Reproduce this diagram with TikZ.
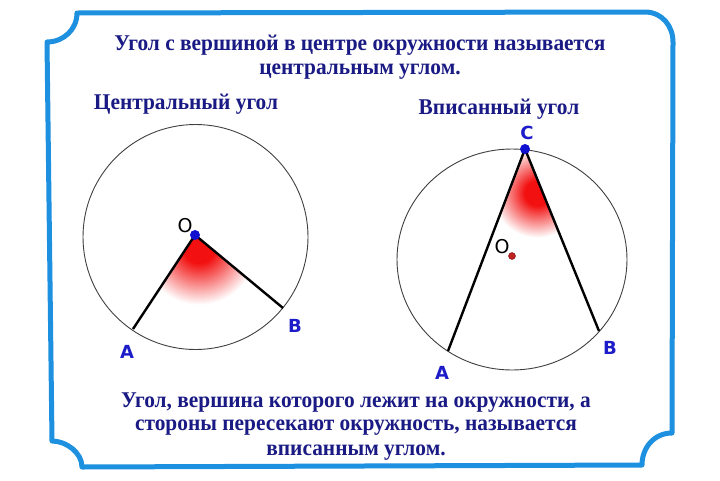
\documentclass[tikz,border=0pt]{standalone}
\usepackage{fontspec}
\setmainfont{Liberation Serif}[FakeStretch=0.95]
\newfontfamily\labfont{DejaVu Sans}
\usetikzlibrary{calc}
\definecolor{framebl}{HTML}{1E90E0}
\definecolor{navy}{HTML}{1A1A85}
\definecolor{labbl}{HTML}{1C1CC8}
\definecolor{dotbl}{HTML}{1010D0}
\definecolor{dotrd}{HTML}{C02020}
\definecolor{angred}{HTML}{F21010}
\pgfdeclareradialshading{redfade}{\pgfpoint{0bp}{0bp}}{color(0bp)=(angred); color(5bp)=(angred); color(18bp)=(white); color(50bp)=(white)}
\tikzset{
  frameline/.style={draw=framebl, line width=5pt, line join=round},
  txt/.style={text=navy, font=\fontsize{22.5}{26}\selectfont\bfseries, inner sep=0pt, align=center},
  ptlab/.style={text=labbl, font=\labfont\fontsize{18}{20}\selectfont\bfseries, inner sep=0pt},
  olab/.style={text=black, font=\labfont\fontsize{19}{20}\selectfont, inner sep=0pt},
  seg/.style={draw=black, line width=2.4pt},
  circ/.style={draw=black!75, line width=0.9pt},
  fade/.style={shading=redfade},
}
\begin{document}
\begin{tikzpicture}[x=1pt,y=-1pt]
\useasboundingbox[fill=white] (0,0) rectangle (720,480);
% frame
\draw[frameline] (77,13) -- (645,12) .. controls (661.5,12) and (673,25.5) .. (673,42)
  -- (672,433) .. controls (654.4,433) and (642,447.4) .. (642,465)
  -- (82,467) .. controls (82,452.7) and (66.3,441) .. (52,441)
  -- (47,42) .. controls (63.5,42) and (77,29.5) .. (77,13) -- cycle;
% texts
\node[txt] (t1) at (360,45) {Угол с вершиной в центре окружности называется};
\node[txt] (t2) at (360,72) {центральным углом.};
\node[txt] (t3) at (186,104) {Центральный угол};
\node[txt] (t4) at (499,109) {Вписанный угол};
\node[txt] (b1) at (356,403) {Угол, вершина которого лежит на окружности, а};
\node[txt] (b2) at (356,428) {стороны пересекают окружность, называется};
\node[txt] (b3) at (356,453) {вписанным углом.};
% left circle: central angle
\coordinate (O1) at (195,235);
\coordinate (A1) at (133,329);
\coordinate (B1) at (283,308);
\begin{scope}
  \clip (O1) -- ($(O1)!95pt!(A1)$) -- ($(O1)!95pt!(B1)$) -- cycle;
  \shade[fade] ($(O1)+(4,12)$) circle (80pt);
\end{scope}
\draw[circ] (195.5,237) circle (112.5pt);
\draw[seg] (O1) -- (A1);
\draw[seg] (O1) -- (B1);
\fill[dotbl] (O1) circle (5pt);
\node[olab] (lo1) at (185,226) {O};
\node[ptlab] (la1) at (127,352) {A};
\node[ptlab] (lb1) at (295,326) {B};
% right circle: inscribed angle
\coordinate (C2) at (525,149);
\coordinate (A2) at (448,351);
\coordinate (B2) at (599,331);
\coordinate (O2) at (512,256);
\begin{scope}
  \clip (C2) -- ($(C2)!110pt!(A2)$) -- ($(C2)!110pt!(B2)$) -- cycle;
  \shade[fade] (537,193) circle (62pt);
\end{scope}
\draw[circ] (512,259.5) ellipse (115pt and 110.5pt);
\draw[seg] (C2) -- (A2);
\draw[seg] (C2) -- (B2);
\fill[dotbl] (C2) circle (5pt);
\filldraw[fill=dotrd, draw=dotrd!60!black, line width=0.4pt] (O2) circle (3.5pt);
\node[olab] (lo2) at (502,247) {O};
\node[ptlab] (lc2) at (527,133) {C};
\node[ptlab] (la2) at (442,373) {A};
\node[ptlab] (lb2) at (610,348) {B};
\end{tikzpicture}
\end{document}
